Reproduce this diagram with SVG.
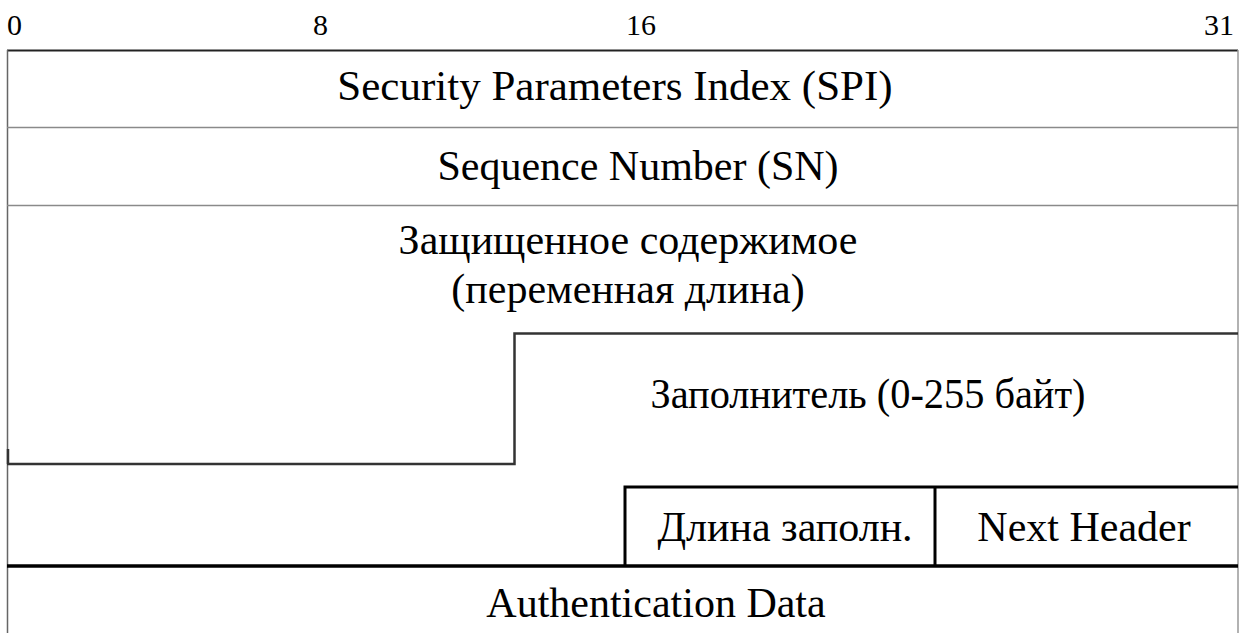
<svg xmlns="http://www.w3.org/2000/svg" width="1245" height="633" viewBox="0 0 1245 633">
<style>
text{font-family:"Liberation Serif","Times New Roman",serif;fill:#000}
.lbl{font-size:42px;text-anchor:middle}
.num{font-size:30px}
.thin{stroke:#8a8a8a;stroke-width:1.5;fill:none}
.step{stroke:#333;stroke-width:2.5;fill:none}
.box{stroke:#000;stroke-width:3;fill:none}
</style>
<rect width="1245" height="633" fill="#fff"/>
<g id="scale">
<text class="num" x="7" y="35">0</text>
<text class="num" x="313" y="35">8</text>
<text class="num" x="626" y="35">16</text>
<text class="num" x="1234" y="35" text-anchor="end">31</text>
</g>
<g id="connectors">
<line x1="7" y1="50.5" x2="1238" y2="50.5" stroke="#222" stroke-width="2"/>
<line x1="7.5" y1="50" x2="7.5" y2="633" stroke="#666" stroke-width="1.5"/>
<line x1="1238" y1="50" x2="1238" y2="633" stroke="#999" stroke-width="1.5"/>
<line class="thin" x1="7" y1="127.5" x2="1238" y2="127.5"/>
<line class="thin" x1="7" y1="205.5" x2="1238" y2="205.5"/>
<polyline class="step" points="1238,333.5 514.5,333.5 514.5,464 7,464"/>
<line x1="8" y1="449" x2="8" y2="464" stroke="#333" stroke-width="2.5"/>
<polyline class="box" points="1238,487 625,487 625,566"/>
<line class="box" x1="935" y1="487" x2="935" y2="566"/>
<line x1="7" y1="566" x2="1238" y2="566" stroke="#000" stroke-width="3.5"/>
</g>
<g id="spi"><text class="lbl" x="615" y="100" style="font-size:43px">Security Parameters Index (SPI)</text></g>
<g id="sn"><text class="lbl" x="638" y="180">Sequence Number (SN)</text></g>
<g id="payload"><text class="lbl" x="628" y="254">Защищенное содержимое</text><text class="lbl" x="628" y="303">(переменная длина)</text></g>
<g id="padding"><text class="lbl" x="868" y="408" textLength="435" lengthAdjust="spacingAndGlyphs">Заполнитель (0-255 байт)</text></g>
<g id="padlen"><text class="lbl" x="785" y="541">Длина заполн.</text></g>
<g id="nexthdr"><text class="lbl" x="1084" y="541">Next Header</text></g>
<g id="auth"><text class="lbl" x="656" y="617">Authentication Data</text></g>
</svg>
